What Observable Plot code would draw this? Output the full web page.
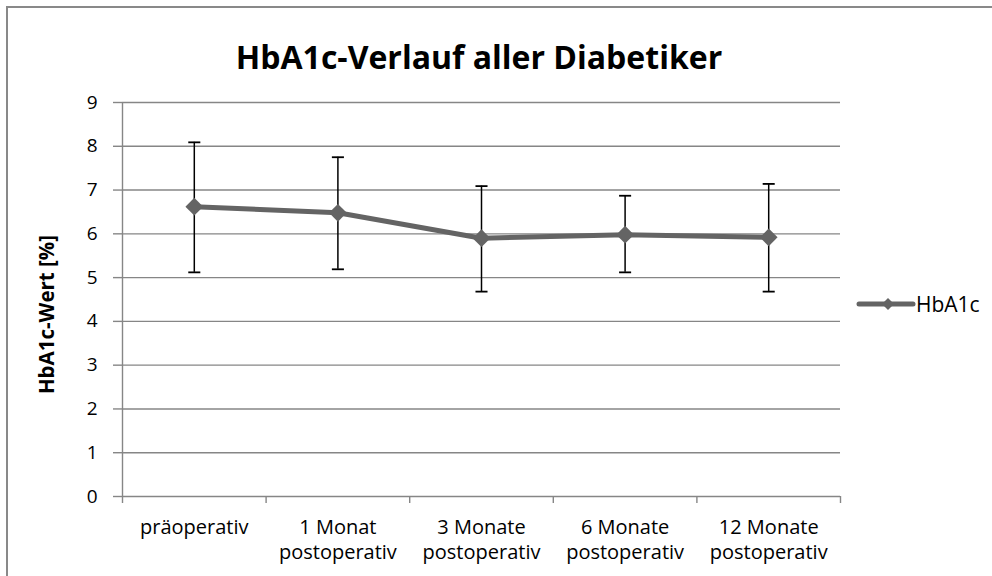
<!DOCTYPE html>
<html>
<head>
<meta charset="utf-8">
<script src="https://cdn.jsdelivr.net/npm/d3@7"></script>
<script src="https://cdn.jsdelivr.net/npm/@observablehq/plot@0.6"></script>
<style>
  html, body { margin: 0; padding: 0; background: #fff; }
  #wrap { position: relative; width: 992px; height: 576px; overflow: hidden; font-family: "Open Sans", Lato, sans-serif; background: #fff; }
  #frame { position: absolute; left: 6px; top: 6px; width: 1200px; height: 800px; border: 2px solid #898989; box-sizing: border-box; z-index: 5; pointer-events: none; }
  #title { position: absolute; left: 0; top: 35px; width: 958px; text-align: center; font-weight: bold; font-size: 32px; line-height: 44px; color: #000; }
  #chart { position: absolute; left: 0; top: 80px; }
  #legend { position: absolute; left: 856px; top: 290px; display: flex; align-items: center; font-size: 21px; color: #000; }
  #legend svg { margin-right: 0px; }
</style>
</head>
<body>
<div id="wrap">
  <div id="frame"></div>
  <div id="title">HbA1c-Verlauf aller Diabetiker</div>
  <div id="chart"></div>
  <div id="legend">
    <svg width="60" height="24"><line x1="3" y1="12" x2="57" y2="12" stroke="#646464" stroke-width="5" stroke-linecap="round"/><path d="M32,6 L38,12 L32,18 L26,12 Z" fill="#646464"/></svg>
    <span>HbA1c</span>
  </div>
</div>
<script>
const categories = ["präoperativ", "1 Monat\npostoperativ", "3 Monate\npostoperativ", "6 Monate\npostoperativ", "12 Monate\npostoperativ"];
const means = [6.62, 6.48, 5.90, 5.98, 5.92];
const upper = [8.09, 7.75, 7.09, 6.87, 7.14];
const lower = [5.12, 5.19, 4.68, 5.12, 4.68];
const yTicks = [0, 1, 2, 3, 4, 5, 6, 7, 8, 9];
const yLabel = "HbA1c-Wert [%]";

const data = categories.map((c, i) => ({pos: i + 0.5, cat: c, mean: means[i], hi: upper[i], lo: lower[i]}));
const bounds = d3.range(categories.length + 1);

const capSymbol = {
  draw(context, size) {
    const w = Math.sqrt(size) / 2;
    context.moveTo(-w, 0);
    context.lineTo(w, 0);
  }
};

const grid = "#868686";
const lineColor = "#646464";

const chart = Plot.plot({
  width: 992,
  height: 496,
  marginLeft: 122,
  marginRight: 152,
  marginTop: 22,
  marginBottom: 80,
  style: {fontFamily: "'Open Sans', Lato, sans-serif", background: "transparent", color: "black"},
  x: {type: "linear", domain: [0, categories.length], axis: null},
  y: {domain: [0, 9], axis: null},
  marks: [
    Plot.ruleY(yTicks.filter(d => d > 0), {stroke: grid, strokeWidth: 1.4}),
    Plot.ruleY([0], {stroke: grid, strokeWidth: 1.4}),
    Plot.ruleX([0], {stroke: grid, strokeWidth: 1.4}),
    Plot.axisY({ticks: yTicks, tickSize: 9, tickPadding: 16, stroke: grid, strokeWidth: 1.4, fill: "black", fontSize: 19, label: null}),
    Plot.axisX({ticks: bounds, tickSize: 7, tickFormat: () => "", stroke: grid, strokeWidth: 1.4, label: null}),
    Plot.text(data, {x: "pos", y: 0, text: "cat", lineAnchor: "top", dy: 20, fontSize: 20, lineHeight: 1.25, fill: "black"}),
    Plot.text([yLabel], {frameAnchor: "left", textAnchor: "middle", dx: -75, dy: 15, rotate: -90, text: d => d, fontWeight: "bold", fontSize: 20.5, fill: "black"}),
    Plot.ruleX(data, {x: "pos", y1: "lo", y2: "hi", stroke: "black", strokeWidth: 1.5}),
    Plot.dot(data, {x: "pos", y: "hi", symbol: capSymbol, r: 6.8, stroke: "black", strokeWidth: 1.8, fill: "none"}),
    Plot.dot(data, {x: "pos", y: "lo", symbol: capSymbol, r: 6.8, stroke: "black", strokeWidth: 1.8, fill: "none"}),
    Plot.line(data, {x: "pos", y: "mean", stroke: lineColor, strokeWidth: 5, strokeLinejoin: "round"}),
    Plot.dot(data, {x: "pos", y: "mean", symbol: "diamond2", r: 8, fill: lineColor, stroke: "none"})
  ]
});
document.getElementById("chart").appendChild(chart);
</script>
</body>
</html>
